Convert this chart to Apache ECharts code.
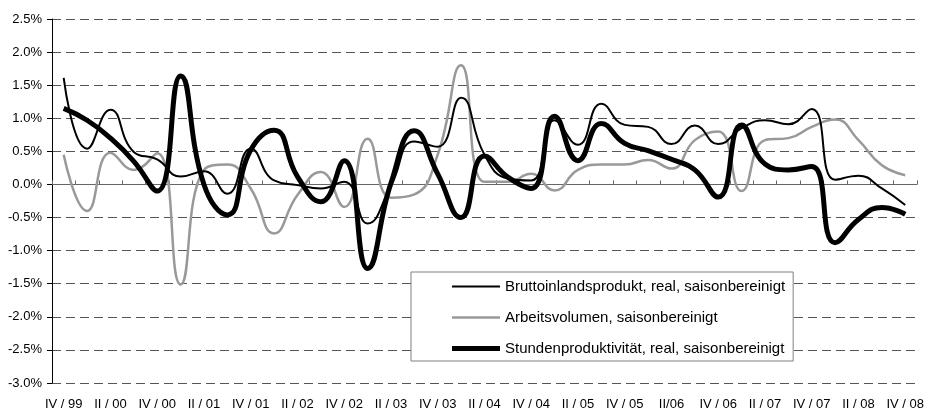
<!DOCTYPE html>
<html>
<head>
<meta charset="utf-8" />
<title></title>
<script src="https://cdn.jsdelivr.net/npm/echarts@6/dist/echarts.min.js"></script>
<style>
html, body { margin: 0; padding: 0; background: #ffffff; }
#chart { width: 927px; height: 411px; }
</style>
</head>
<body>
<div id="chart"></div>
<script type="text/javascript">
// Quartale IV/99 bis IV/08
var quarters = ['IV / 99', 'I / 00', 'II / 00', 'III / 00', 'IV / 00', 'I / 01', 'II / 01', 'III / 01',
	'IV / 01', 'I / 02', 'II / 02', 'III / 02', 'IV / 02', 'I / 03', 'II / 03', 'III / 03',
	'IV / 03', 'I / 04', 'II / 04', 'III / 04', 'IV / 04', 'I / 05', 'II / 05', 'III / 05',
	'IV / 05', 'I / 06', 'II/06', 'III / 06', 'IV / 06', 'I / 07', 'II / 07', 'III / 07',
	'IV / 07', 'I / 08', 'II / 08', 'III / 08', 'IV / 08'];

var seriesNames = ['Bruttoinlandsprodukt, real, saisonbereinigt',
	'Arbeitsvolumen, saisonbereinigt',
	'Stundenproduktivität, real, saisonbereinigt'];

var bip = [1.61, 0.54, 1.13, 0.49, 0.38, 0.12, 0.20, -0.14, 0.54, 0.06, -0.01, -0.06, 0.04,
	-0.59, -0.02, 0.65, 0.57, 1.31, 0.45, 0.09, 0.06, 0.97, 0.60, 1.22, 0.90, 0.87, 0.61,
	0.89, 0.61, 0.85, 0.97, 0.91, 1.14, 0.07, 0.13, -0.06, -0.31];

var arbeitsvolumen = [0.45, -0.40, 0.48, 0.22, 0.47, -1.51, 0.22, 0.30, -0.06, -0.74, -0.16,
	0.19, -0.34, 0.69, -0.20, -0.15, 0.45, 1.80, 0.04, 0.04, 0.16, -0.09, 0.22, 0.30, 0.30,
	0.37, 0.24, 0.67, 0.80, -0.10, 0.67, 0.70, 0.87, 0.98, 0.67, 0.29, 0.14];

var produktivitaet = [1.15, 0.97, 0.70, 0.35, -0.10, 1.64, 0.00, -0.46, 0.52, 0.82, 0.12,
	-0.26, 0.36, -1.27, 0.02, 0.81, 0.16, -0.50, 0.43, 0.11, -0.06, 1.03, 0.36, 0.92, 0.62,
	0.51, 0.38, 0.22, -0.19, 0.90, 0.31, 0.22, 0.27, -0.88, -0.53, -0.35, -0.45];

var yMin = -3.0, yMax = 2.5, yStep = 0.5;

var fontFamily = '"Liberation Sans", Arial, sans-serif';

// Legendensymbole: reine Linien in der jeweiligen Strichstaerke
var iconThin = 'path://M0,0L48,0L48,2L0,2Z';
var iconGrey = 'path://M0,0L48,0L48,2.5L0,2.5Z';
var iconThick = 'path://M0,0L48,0L48,5L0,5Z';

var myChart = echarts.init(document.getElementById('chart'));
myChart.setOption({
	animation : false,
	backgroundColor : '#ffffff',
	grid : {
		left : 52,
		right : 8,
		top : 19,
		bottom : 28
	},
	legend : {
		orient : 'vertical',
		left : 411,
		top : 272,
		padding : [ 7, 8, 5, 41 ],
		itemWidth : 48,
		itemHeight : 14,
		itemGap : 16,
		backgroundColor : '#ffffff',
		borderColor : '#808080',
		borderWidth : 1,
		textStyle : {
			fontFamily : fontFamily,
			fontSize : 15,
			color : '#000000'
		},
		data : [ {
			name : seriesNames[0],
			icon : iconThin
		}, {
			name : seriesNames[1],
			icon : iconGrey
		}, {
			name : seriesNames[2],
			icon : iconThick
		} ]
	},
	xAxis : [ {
		type : 'category',
		data : quarters,
		boundaryGap : true,
		axisLine : { show : false, onZero : false },
		axisTick : { show : false },
		axisLabel : {
			interval : 1,
			margin : 15,
			fontFamily : fontFamily,
			fontSize : 13,
			color : '#000000'
		},
		splitLine : { show : false }
	}, {
		type : 'category',
		data : quarters,
		boundaryGap : true,
		axisLine : {
			show : true,
			onZero : true,
			lineStyle : { color : '#666666', width : 1 }
		},
		axisTick : {
			show : true,
			interval : 0,
			length : 4,
			lineStyle : { color : '#666666' }
		},
		axisLabel : { show : false },
		splitLine : { show : false }
	} ],
	yAxis : {
		type : 'value',
		min : yMin,
		max : yMax,
		interval : yStep,
		axisLine : {
			show : true,
			onZero : false,
			lineStyle : { color : '#000000', width : 1 }
		},
		axisTick : {
			show : true,
			length : 5,
			lineStyle : { color : '#000000' }
		},
		axisLabel : {
			margin : 10,
			fontFamily : fontFamily,
			fontSize : 13,
			color : '#000000',
			formatter : function(v) {
				return v.toFixed(1) + '%';
			}
		},
		splitLine : {
			show : true,
			lineStyle : { color : '#555555', width : 1, type : [ 9, 5 ] }
		}
	},
	series : [ {
		name : seriesNames[0],
		type : 'line',
		data : bip,
		smooth : 0.5,
		symbol : 'none',
		z : 3,
		lineStyle : { color : '#000000', width : 2 },
		itemStyle : { color : '#000000' }
	}, {
		name : seriesNames[1],
		type : 'line',
		data : arbeitsvolumen,
		smooth : 0.5,
		symbol : 'none',
		z : 2,
		lineStyle : { color : '#999999', width : 2.5 },
		itemStyle : { color : '#999999' }
	}, {
		name : seriesNames[2],
		type : 'line',
		data : produktivitaet,
		smooth : 0.5,
		symbol : 'none',
		z : 4,
		lineStyle : { color : '#000000', width : 5 },
		itemStyle : { color : '#000000' }
	} ]
});
</script>
</body>
</html>
